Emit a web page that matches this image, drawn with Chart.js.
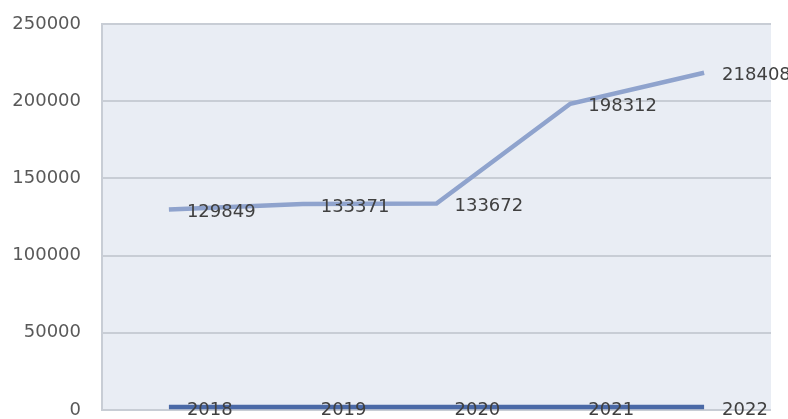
<!DOCTYPE html>
<html><head><meta charset="utf-8">
<script src="https://cdn.jsdelivr.net/npm/chart.js@4/dist/chart.umd.min.js"></script>
<style>html,body{margin:0;padding:0;background:#fff;}#wrap{width:788px;height:419px;}</style>
</head><body><div id="wrap"><canvas id="c" width="788" height="419"></canvas></div>
<script>
const categories = ['2018', '2019', '2020', '2021', '2022'];
const seriesValues = [129849, 133371, 133672, 198312, 218408];
const seriesYears = [2018, 2019, 2020, 2021, 2022];
const yTicks = [0, 50000, 100000, 150000, 200000, 250000];

const bgPlugin = {
  id: 'plotBg',
  beforeDraw(chart) {
    const {ctx, chartArea: a} = chart;
    ctx.save();
    ctx.fillStyle = '#E9EDF4';
    ctx.fillRect(a.left, a.top, a.right - a.left, a.bottom - a.top);
    ctx.restore();
  }
};
const labelPlugin = {
  id: 'ptLabels',
  afterDatasetsDraw(chart) {
    const ctx = chart.ctx;
    ctx.save();
    ctx.font = '18px "DejaVu Sans"';
    ctx.fillStyle = '#404040';
    ctx.textAlign = 'left';
    ctx.textBaseline = 'middle';
    chart.data.datasets.forEach((ds, i) => {
      const meta = chart.getDatasetMeta(i);
      meta.data.forEach((pt, j) => {
        ctx.fillText(String(ds.data[j]), pt.x + 18, pt.y + 3);
      });
    });
    ctx.restore();
  }
};

new Chart(document.getElementById('c'), {
  type: 'line',
  data: {
    labels: categories,
    datasets: [
      {label: 'Value', data: seriesValues, borderColor: '#8FA3CD', borderWidth: 4.5, pointRadius: 0, tension: 0},
      {label: 'Year', data: seriesYears, borderColor: '#4A69A6', borderWidth: 4.5, pointRadius: 0, tension: 0}
    ]
  },
  options: {
    responsive: false,
    animation: false,
    layout: {padding: {top: 24, right: 17, bottom: 9, left: 0}},
    plugins: {legend: {display: false}, tooltip: {enabled: false}},
    scales: {
      x: {
        display: false,
        offset: true
      },
      y: {
        min: 0, max: 250000,
        afterBuildTicks(scale) { scale.ticks = yTicks.map(v => ({value: v})); },
        afterFit(scale) { scale.width = 102; },
        ticks: {
          font: {family: 'DejaVu Sans', size: 18, lineHeight: 1},
          color: '#595959',
          padding: 0,
          callback: v => String(v)
        },
        grid: {color: '#C8CDD5', lineWidth: 2, drawTicks: true, tickLength: 21, tickColor: 'rgba(0,0,0,0)'},
        border: {display: true, color: '#C8CDD5', width: 2}
      }
    }
  },
  plugins: [bgPlugin, labelPlugin]
});
</script>
</body></html>
